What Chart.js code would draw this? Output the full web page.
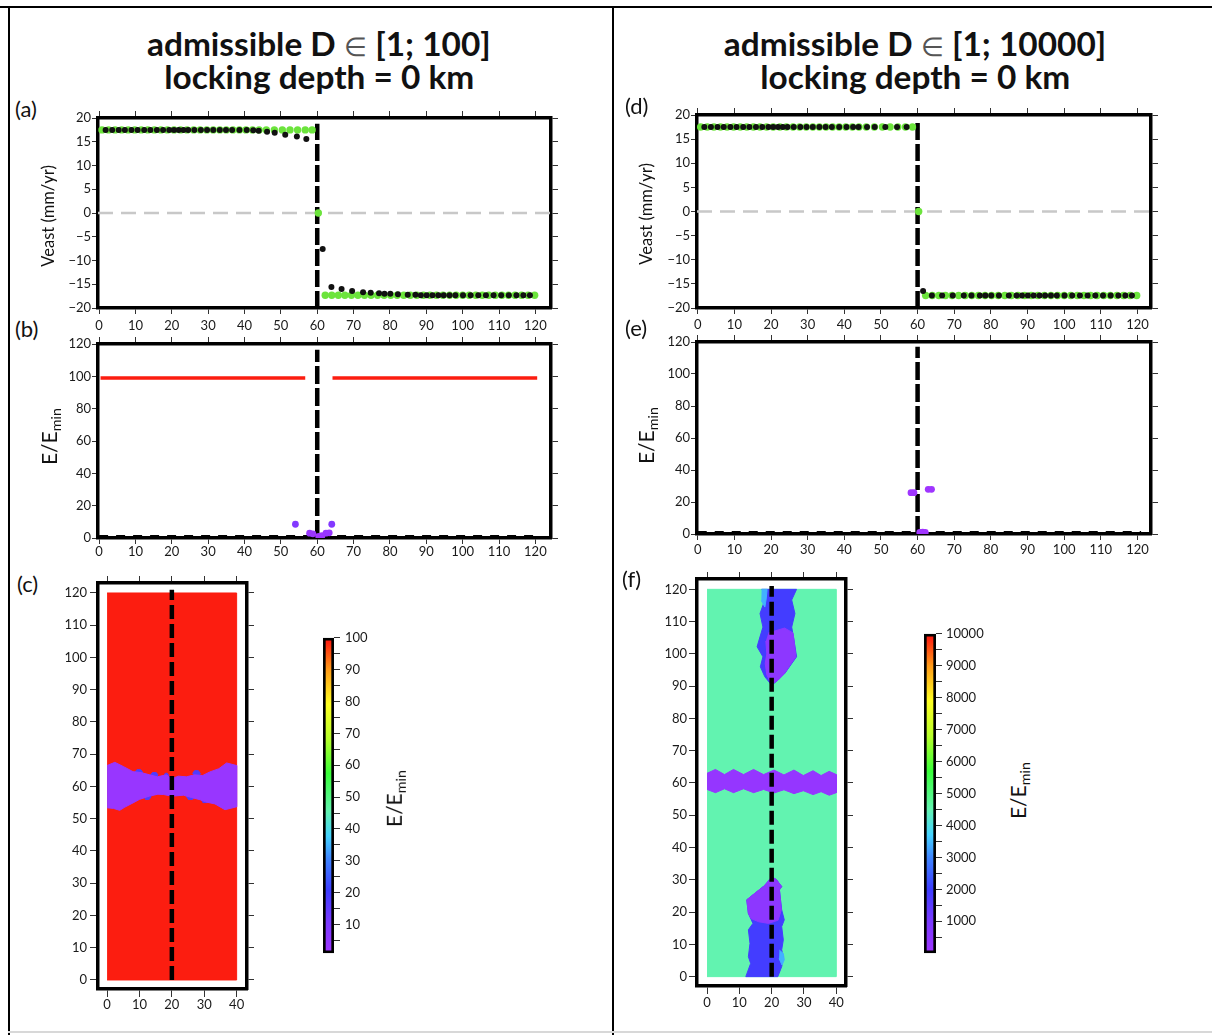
<!DOCTYPE html>
<html>
<head>
<meta charset="utf-8">
<script src="https://cdn.jsdelivr.net/npm/chart.js@4.4.1/dist/chart.umd.min.js"></script>
<style>
  html, body { margin: 0; padding: 0; background: #fff; }
  body { width: 1212px; height: 1035px; position: relative; overflow: hidden; font-family: Lato, "Open Sans", "DejaVu Sans", sans-serif; color: #111; }
  canvas { position: absolute; }
  .txt { position: absolute; white-space: nowrap; line-height: 1.2; color: #111; transform-origin: 50% 50%; }
  .txt sub { font-size: 0.68em; vertical-align: -0.28em; line-height: 0; }
  .elem { font-family: "DejaVu Sans", sans-serif; font-weight: 300; color: #555; font-size: 0.78em; }
  .rule { position: absolute; background: #000; }
</style>
</head>
<body>
<div class="rule" style="left:0;top:6px;width:1212px;height:2px"></div>
<div class="rule" style="left:8px;top:6px;width:2px;height:1029px"></div>
<div class="rule" style="left:612px;top:6px;width:2px;height:1029px"></div>
<div class="rule" style="left:8px;top:1031px;width:1204px;height:2px;background:#d8d8d8"></div>
<script>
// ---------------- DATA ----------------
// tick values
const xTickVals  = [0, 10, 20, 30, 40, 50, 60, 70, 80, 90, 100, 110, 120];
const veastTicks = [-20, -15, -10, -5, 0, 5, 10, 15, 20];
const eTicks     = [0, 20, 40, 60, 80, 100, 120];
const mapXTicks  = [0, 10, 20, 30, 40];
const mapYTicks  = [0, 10, 20, 30, 40, 50, 60, 70, 80, 90, 100, 110, 120];
const cbTicksC   = [5, 10, 15, 20, 25, 30, 35, 40, 45, 50, 55, 60, 65, 70, 75, 80, 85, 90, 95, 100];
const cbLabelsC  = [10, 20, 30, 40, 50, 60, 70, 80, 90, 100];
const cbTicksF   = [500, 1000, 1500, 2000, 2500, 3000, 3500, 4000, 4500, 5000, 5500, 6000, 6500, 7000, 7500, 8000, 8500, 9000, 9500, 10000];
const cbLabelsF  = [1000, 2000, 3000, 4000, 5000, 6000, 7000, 8000, 9000, 10000];

// fault position (km) and colour scale ranges
const faultX = 60;
const faultMapX = 20;
const rangeC = [1, 100];
const rangeF = [1, 10000];

// observed east velocities (black)
const obsXLeft  = [1.8, 3.6, 5.4, 7.1, 8.9, 10.6, 12.4, 14.1, 15.9, 17.6, 19.3, 20.6, 21.9, 23.2, 24.5, 26.2, 28.0, 29.7, 31.4, 33.2, 34.9, 36.6, 38.6, 40.6, 42.4, 43.9, 46.2, 48.3, 51.2, 54.4, 57.0];
const obsXRight = [61.5, 63.9, 66.7, 69.6, 72.6, 74.7, 77.0, 78.5, 80.1, 82.2, 84.9, 87.0, 88.5, 90.1, 91.7, 93.3, 94.8, 96.4, 98.0, 100.1, 102.2, 104.3, 106.4, 108.5, 110.6, 112.7, 114.8, 116.7, 118.5];
const veastObsLeftA  = [17.5, 17.5, 17.5, 17.5, 17.5, 17.5, 17.5, 17.5, 17.5, 17.5, 17.5, 17.5, 17.5, 17.5, 17.5, 17.5, 17.5, 17.5, 17.5, 17.5, 17.5, 17.5, 17.5, 17.5, 17.4, 17.3, 17.1, 16.9, 16.5, 16.1, 15.6];
const veastObsRightA = [-7.6, -15.6, -16.0, -16.4, -16.7, -16.8, -16.9, -17.0, -17.0, -17.1, -17.2, -17.2, -17.3, -17.3, -17.3, -17.3, -17.3, -17.3, -17.3, -17.3, -17.3, -17.3, -17.3, -17.3, -17.3, -17.3, -17.3, -17.3, -17.3];
const veastObsLeftD  = [17.5, 17.5, 17.5, 17.5, 17.5, 17.5, 17.5, 17.5, 17.5, 17.5, 17.5, 17.5, 17.5, 17.5, 17.5, 17.5, 17.5, 17.5, 17.5, 17.5, 17.5, 17.5, 17.5, 17.5, 17.5, 17.5, 17.5, 17.5, 17.5, 17.5, 17.5];
const veastObsRightD = [-16.5, -17.4, -17.4, -17.4, -17.4, -17.4, -17.4, -17.4, -17.4, -17.4, -17.4, -17.4, -17.4, -17.4, -17.4, -17.4, -17.4, -17.4, -17.4, -17.4, -17.4, -17.4, -17.4, -17.4, -17.4, -17.4, -17.4, -17.4, -17.4];

// modelled east velocities (green)
const modelX = [0.8, 2.6, 4.4, 6.2, 8.0, 9.8, 11.6, 13.4, 15.2, 17.0, 18.8, 20.6, 22.4, 24.2, 26.0, 27.8, 29.6, 31.4, 33.2, 35.0, 36.8, 38.6, 40.4, 42.2, 44.0, 46.0, 48.2, 50.4, 52.5, 54.6, 56.7, 58.6,
                60.3,
                62.2, 64.0, 65.8, 67.6, 69.4, 71.2, 73.0, 74.8, 76.6, 78.4, 80.2, 82.0, 83.8, 85.6, 87.4, 89.2, 91.0, 92.8, 94.6, 96.4, 98.2, 100.0, 101.8, 103.6, 105.4, 107.2, 109.0, 110.8, 112.6, 114.4, 116.2, 118.0, 119.8];
const veastModelA = [17.5, 17.5, 17.5, 17.5, 17.5, 17.5, 17.5, 17.5, 17.5, 17.5, 17.5, 17.5, 17.5, 17.5, 17.5, 17.5, 17.5, 17.5, 17.5, 17.5, 17.5, 17.5, 17.5, 17.5, 17.5, 17.5, 17.5, 17.5, 17.5, 17.5, 17.5, 17.5,
                0,
                -17.3, -17.3, -17.3, -17.3, -17.3, -17.3, -17.3, -17.3, -17.3, -17.3, -17.3, -17.3, -17.3, -17.3, -17.3, -17.3, -17.3, -17.3, -17.3, -17.3, -17.3, -17.3, -17.3, -17.3, -17.3, -17.3, -17.3, -17.3, -17.3, -17.3, -17.3, -17.3, -17.3];
const veastModelD = [17.5, 17.5, 17.5, 17.5, 17.5, 17.5, 17.5, 17.5, 17.5, 17.5, 17.5, 17.5, 17.5, 17.5, 17.5, 17.5, 17.5, 17.5, 17.5, 17.5, 17.5, 17.5, 17.5, 17.5, 17.5, 17.5, 17.5, 17.5, 17.5, 17.5, 17.5, 17.5,
                0,
                -17.4, -17.4, -17.4, -17.4, -17.4, -17.4, -17.4, -17.4, -17.4, -17.4, -17.4, -17.4, -17.4, -17.4, -17.4, -17.4, -17.4, -17.4, -17.4, -17.4, -17.4, -17.4, -17.4, -17.4, -17.4, -17.4, -17.4, -17.4, -17.4, -17.4, -17.4, -17.4, -17.4];

// E/Emin along the profile
const eHighX = [0.4, 56.7, 60.0, 64.2, 120.5];
const eHighB = [99, 99, null, 99, 99];
const eLowXB = [54.0, 64.0, 57.9, 58.8, 60.4, 61.3, 62.4, 63.3];
const eLowB  = [8.5, 8.5, 3.0, 2.6, 1.0, 1.4, 3.0, 3.2];
const eLowXE = [58.2, 59.0, 62.9, 63.8, 60.6, 61.4, 62.1];
const eLowE  = [25.8, 25.8, 27.9, 27.9, 1.0, 1.2, 1.0];
const eRefX  = [0, 121];
const eRefY  = [1, 1];

// map (c): admissible D in [1;100]
const cFieldX = [0, 40, 40, 0];
const cFieldY = [0, 0, 120, 120];
const cFieldE = 99;
const cBandX = [0, 2.4, 5.0, 8.0, 10.5, 13.2, 15.5, 18.3, 20.0, 22.0, 24.5, 27.0, 29.5, 31.7, 34.5, 36.9, 40,
                40, 36.4, 33.3, 30.5, 28.7, 26.0, 23.6, 20.0, 17.5, 15.7, 13.0, 12.1, 10.0, 8.0, 5.5, 3.9, 2.0, 0];
const cBandY = [66.5, 67.5, 66.2, 64.6, 64.3, 63.6, 63.0, 63.6, 62.4, 63.2, 63.0, 63.6, 63.4, 64.5, 65.5, 67.3, 66.5,
                53.7, 52.8, 54.6, 55.2, 55.9, 56.6, 57.3, 57.0, 57.5, 57.6, 57.0, 56.7, 56.0, 54.9, 53.6, 52.6, 53.2, 53.4];
const cBandE = 3;
const cPatchX = [[8.6, 9.2, 10.4, 11.0, 10.4, 9.2], [13.5, 14.0, 15.2, 15.7, 15.2, 14.0], [17.6, 18.0, 18.6, 19.0, 18.6, 18.0],
                 [26.4, 27.0, 28.2, 28.8, 28.2, 27.0], [11.2, 11.8, 13.0, 13.6, 13.0, 11.8], [24.4, 25.0, 26.4, 27.0, 26.4, 25.0],
                 [28.9, 29.5, 30.9, 31.5, 30.9, 29.5]];
const cPatchY = [[64.4, 65.2, 65.2, 64.4, 63.6, 63.6], [63.6, 64.3, 64.3, 63.6, 62.9, 62.9], [63.5, 64.1, 64.1, 63.5, 62.9, 62.9],
                 [64.0, 64.9, 64.9, 64.0, 63.1, 63.1], [56.8, 57.6, 57.6, 56.8, 56.0, 56.0], [56.8, 57.6, 57.6, 56.8, 56.0, 56.0],
                 [55.9, 56.8, 56.8, 55.9, 55.0, 55.0]];
const cPatchE = 18;

// map (f): admissible D in [1;10000]
const fFieldX = [0, 40, 40, 0];
const fFieldY = [0, 0, 120, 120];
const fFieldE = 4500;
const fBandX = [0, 2.6, 5.4, 8.2, 11.3, 14.4, 17.5, 20.7, 23.8, 26.9, 29.8, 32.8, 35.3, 37.8, 40,
                40, 37.8, 35.3, 32.8, 29.8, 26.9, 23.8, 20.7, 17.5, 14.4, 11.3, 8.2, 5.4, 2.6, 0];
const fBandY = [63.0, 64.2, 62.6, 64.2, 62.6, 64.2, 62.6, 64.0, 62.5, 64.0, 62.3, 63.8, 62.3, 63.6, 62.6,
                57.0, 56.2, 57.3, 56.4, 57.6, 56.7, 57.9, 56.9, 58.0, 57.0, 58.2, 57.0, 58.2, 57.0, 58.0];
const fBandE = 300;
const fTopX = [16.9, 27.7, 26.2, 27.2, 26.2, 26.9, 27.7, 26.2, 24.1, 22.0, 20.0, 17.9, 16.5, 17.3, 15.5, 16.1, 17.3, 16.4, 17.9];
const fTopY = [120, 120, 116.7, 112.5, 108.3, 104.3, 99.1, 97.0, 94.0, 91.9, 90.3, 92.9, 96.0, 99.1, 102.2, 104.3, 108.3, 112.5, 116.7];
const fTopE = 1900;
const fTopCoreX = [19.0, 24.0, 26.6, 26.9, 27.5, 26.0, 24.0, 22.0, 20.0, 18.5, 18.0, 18.5, 18.2];
const fTopCoreY = [106.5, 108.0, 106.5, 104.3, 99.1, 97.0, 94.0, 91.9, 90.5, 93.5, 97.0, 100.0, 104.0];
const fTopCoreE = 500;
const fTopEdgeX = [16.9, 18.6, 18.3, 17.9, 16.8];
const fTopEdgeY = [120, 120, 117.0, 114.5, 116.5];
const fTopEdgeE = 3400;
const fBotX = [20.0, 21.5, 23.1, 22.4, 23.1, 23.9, 23.1, 23.6, 23.1, 23.6, 23.1, 21.9, 12.0, 13.5, 12.8, 13.3, 12.8, 14.2, 12.8, 12.3, 17.4];
const fBotY = [31.0, 30.0, 27.9, 26.9, 20.7, 17.6, 15.5, 11.4, 8.3, 6.2, 3.1, 0, 0, 4.1, 6.2, 10.3, 14.5, 16.5, 19.6, 23.8, 27.9];
const fBotE = 1900;
const fBotCoreX = [20.0, 21.5, 23.1, 22.4, 23.0, 22.0, 19.0, 16.0, 13.6, 12.8, 12.3, 17.4];
const fBotCoreY = [31.0, 30.0, 27.9, 26.9, 20.7, 17.5, 16.5, 17.0, 18.0, 19.6, 23.8, 27.9];
const fBotCoreE = 500;
const fBotEdgeX = [22.4, 23.6, 23.9, 23.2, 22.3];
const fBotEdgeY = [8.2, 7.2, 5.2, 3.6, 5.6];
const fBotEdgeE = 3400;

// ---------------- STYLE / HELPERS ----------------
const FONT = 'Lato, "Open Sans", "DejaVu Sans", sans-serif';
const FRAME_W = 3.5;
const BLACK = '#111111';
const GREEN = '#6ce43c';
const cmapStops = [[0, '#a035ff'], [0.1, '#7a3aff'], [0.2, '#3d3dff'], [0.3, '#3f86ff'], [0.37, '#45d2ff'], [0.45, '#62f3b0'],
                   [0.57, '#38ff38'], [0.68, '#b8ff2a'], [0.79, '#ffff22'], [0.9, '#ff9a18'], [1, '#fc0f0f']];
function hex2rgb(h) { return [1, 3, 5].map(i => parseInt(h.substr(i, 2), 16)); }
function colorAt(f) {
  f = Math.max(0, Math.min(1, f));
  for (let i = 1; i < cmapStops.length; i++) {
    const [f1, c1] = cmapStops[i];
    if (f <= f1) {
      const [f0, c0] = cmapStops[i - 1];
      const t = (f - f0) / (f1 - f0);
      const a = hex2rgb(c0), b = hex2rgb(c1);
      return 'rgb(' + a.map((v, k) => Math.round(v + (b[k] - v) * t)).join(',') + ')';
    }
  }
  return cmapStops[cmapStops.length - 1][1];
}
const normC = e => (e - rangeC[0]) / (rangeC[1] - rangeC[0]);
const normF = e => (e - rangeF[0]) / (rangeF[1] - rangeF[0]);

const tickFont = {family: FONT, size: 13};
const fmt = v => (v < 0 ? '\u2212' + Math.abs(v) : String(v));
const P = (xs, ys) => xs.map((x, i) => ({x: x, y: ys[i]}));
const dots = (xs, ys, color, r, order) => ({data: P(xs, ys), showLine: false, pointRadius: r, pointBackgroundColor: color, pointBorderWidth: 0, pointBorderColor: 'rgba(0,0,0,0)', order: order});
const lineDs = (xs, ys, color, w, dash, order) => ({data: P(xs, ys), borderColor: color, borderWidth: w, borderDash: dash || [], pointRadius: 0, fill: false, spanGaps: false, order: order});
const poly = (xs, ys, color, order) => ({data: P(xs, ys), borderColor: color, backgroundColor: color, borderWidth: 1, pointRadius: 0, fill: 'shape', order: order});

function linAxis(pos, min, max, ticks, o) {
  const horiz = pos === 'top' || pos === 'bottom';
  return {
    type: 'linear', position: pos, min: min, max: max,
    afterBuildTicks: s => { s.ticks = ticks.map(v => ({value: v})); },
    afterFit: s => { if (horiz) s.height = o.size; else s.width = o.size; },
    ticks: {display: !!o.labels, font: tickFont, color: '#1a1a1a', padding: o.pad || 0, maxRotation: 0, minRotation: 0, autoSkip: false, callback: o.cb || fmt},
    grid: {display: true, drawOnChartArea: false, drawTicks: true, tickLength: o.tl, color: '#333', lineWidth: 1},
    border: {display: true, width: FRAME_W, color: '#000'}
  };
}
function frameScales(f) {
  return {
    x:  linAxis('bottom', f.xMin, f.xMax, f.xTicks, {size: f.B, labels: true, pad: f.xPad, tl: f.tl}),
    x2: linAxis('top', f.xMin, f.xMax, f.xTicks, {size: f.T, tl: f.tlOut}),
    y:  linAxis('left', f.yMin, f.yMax, f.yTicks, {size: f.L, labels: true, pad: f.yPad, tl: f.tl}),
    y2: linAxis('right', f.yMin, f.yMax, f.yTicks, {size: f.R, tl: f.tlOut})
  };
}
function makeChart(frame, sz, type, data, scales, layoutPad) {
  const left = Math.round(frame[0] - sz.L), top = Math.round(frame[1] - sz.T);
  const w = Math.round(frame[2] - frame[0] + sz.L + sz.R), h = Math.round(frame[3] - frame[1] + sz.T + sz.B);
  const c = document.createElement('canvas');
  c.width = w; c.height = h;
  c.style.left = left + 'px'; c.style.top = top + 'px'; c.style.width = w + 'px'; c.style.height = h + 'px';
  document.body.appendChild(c);
  return new Chart(c, {
    type: type, data: data,
    options: {
      responsive: false, animation: false, devicePixelRatio: 1, events: [],
      layout: {padding: layoutPad || 0},
      plugins: {legend: {display: false}, tooltip: {enabled: false}},
      scales: scales
    }
  });
}

// ---------------- PROFILE CHARTS ----------------
const profSz = {L: 52, R: 12, T: 12, B: 28};
function velocityChart(frame, xMin, xMax, obsLeft, obsRight, model, xPad) {
  const datasets = [
    lineDs([xMin, xMax], [0, 0], '#c8c8c8', 2.5, [15, 8], 6),
    lineDs([faultX, faultX], [-20, 18.8], '#000', 4.5, [17, 4], 5),
    dots(modelX, model, GREEN, 3.7, 2),
    dots(obsXLeft, obsLeft, BLACK, 3.0, 1),
    dots(obsXRight, obsRight, BLACK, 3.0, 1)
  ];
  makeChart(frame, profSz, 'line', {datasets: datasets},
    frameScales({xMin: xMin, xMax: xMax, xTicks: xTickVals, yMin: -20, yMax: 20, yTicks: veastTicks,
                 L: profSz.L, R: profSz.R, T: profSz.T, B: profSz.B, xPad: xPad, yPad: 1, tl: 6, tlOut: 7}));
}
function energyChart(frame, xMin, xMax, withHigh, lowX, lowY, norm, xPad, faultTop) {
  const datasets = [
    lineDs([faultX, faultX], [0, faultTop], '#000', 4.5, [18, 4], 5),
    lineDs(eRefX, eRefY, '#000', 3, [9, 8], 4),
    dots(lowX, lowY, lowY.map(v => colorAt(norm(v))), 3.4, 1)
  ];
  if (withHigh) datasets.push(lineDs(eHighX, eHighB, colorAt(norm(99)), 3.5, [], 3));
  makeChart(frame, profSz, 'line', {datasets: datasets},
    frameScales({xMin: xMin, xMax: xMax, xTicks: xTickVals, yMin: 0, yMax: 120, yTicks: eTicks,
                 L: profSz.L, R: profSz.R, T: profSz.T, B: profSz.B, xPad: xPad, yPad: 1, tl: 6, tlOut: 7}));
}

velocityChart([97.6, 118.3, 551, 308.3], -0.3, 124.3, veastObsLeftA, veastObsRightA, veastModelA, 4);
energyChart([97.6, 343.5, 551, 537.7], -0.3, 124.3, true, eLowXB, eLowB, normC, 0, 116.5);
velocityChart([696.8, 115, 1150.3, 308.3], -0.2, 123.7, veastObsLeftD, veastObsRightD, veastModelD, 3);
energyChart([696.8, 341.7, 1150.3, 534], -0.2, 123.7, false, eLowXE, eLowE, normF, 2, 117);

// ---------------- MAPS ----------------
const mapSz = {L: 45, R: 12, T: 12, B: 28};
function mapChart(frame, xr, yr, polys, xPad, yPad) {
  const datasets = polys.concat([lineDs([faultMapX, faultMapX], [0, 121], '#000', 4.5, [14, 5], 0)]);
  makeChart(frame, mapSz, 'line', {datasets: datasets},
    frameScales({xMin: xr[0], xMax: xr[1], xTicks: mapXTicks, yMin: yr[0], yMax: yr[1], yTicks: mapYTicks,
                 L: mapSz.L, R: mapSz.R, T: mapSz.T, B: mapSz.B, xPad: xPad, yPad: yPad, tl: 8, tlOut: 7}));
}
const cPolys = [poly(cFieldX, cFieldY, colorAt(normC(cFieldE)), 10), poly(cBandX, cBandY, colorAt(normC(cBandE)), 8)]
  .concat(cPatchX.map((xs, i) => poly(xs, cPatchY[i], colorAt(normC(cPatchE)), 9)));
mapChart([98.3, 582.7, 247.3, 989], [-2.8, 43.2], [-2.8, 123.1], cPolys, 0, 3);

const fPolys = [
  poly(fFieldX, fFieldY, colorAt(normF(fFieldE)), 10),
  poly(fBandX, fBandY, colorAt(normF(fBandE)), 9),
  poly(fTopX, fTopY, colorAt(normF(fTopE)), 8),
  poly(fTopCoreX, fTopCoreY, colorAt(normF(fTopCoreE)), 7),
  poly(fTopEdgeX, fTopEdgeY, colorAt(normF(fTopEdgeE)), 6),
  poly(fBotX, fBotY, colorAt(normF(fBotE)), 8),
  poly(fBotCoreX, fBotCoreY, colorAt(normF(fBotCoreE)), 7),
  poly(fBotEdgeX, fBotEdgeY, colorAt(normF(fBotEdgeE)), 6)
];
mapChart([697, 579, 846, 986], [-3.1, 43.0], [-2.9, 123.2], fPolys, 1, 2);

// ---------------- COLOUR BARS ----------------
function colorbar(frame, range, ticks, labels, pad) {
  const sz = {L: 0, R: 60, T: 9, B: 9};
  const grad = ctx => {
    const ca = ctx.chart.chartArea;
    if (!ca) return '#888';
    const g = ctx.chart.ctx.createLinearGradient(0, ca.bottom, 0, ca.top);
    cmapStops.forEach(s => g.addColorStop(s[0], s[1]));
    return g;
  };
  makeChart(frame, sz, 'bar', {
    labels: ['E/Emin'],
    datasets: [{data: [[range[0], range[1]]], backgroundColor: grad, borderColor: '#000', borderWidth: 3, borderSkipped: false, barPercentage: 1, categoryPercentage: 1}]
  }, {
    x: {type: 'category', display: false},
    y: {
      type: 'linear', position: 'right', min: range[0], max: range[1],
      afterBuildTicks: s => { s.ticks = ticks.map(v => ({value: v})); },
      afterFit: s => { s.width = sz.R; },
      ticks: {font: tickFont, color: '#1a1a1a', padding: pad, autoSkip: false, maxRotation: 0, callback: v => (labels.indexOf(v) >= 0 ? String(v) : '')},
      grid: {drawOnChartArea: false, drawTicks: true, tickLength: 6, color: '#333', lineWidth: 1},
      border: {display: false}
    }
  }, {top: sz.T, bottom: sz.B, left: 0, right: 0});
}
colorbar([323, 634, 334.3, 957], rangeC, cbTicksC, cbLabelsC, 5);
colorbar([923.7, 630.7, 935.3, 955.7], rangeF, cbTicksF, cbLabelsF, 4);

// ---------------- TEXT ----------------
const ASC = 0.987;
function addText(html, size, weight) {
  const d = document.createElement('div');
  d.className = 'txt';
  d.innerHTML = html;
  d.style.fontSize = size + 'px';
  d.style.fontWeight = weight || 400;
  document.body.appendChild(d);
  return d;
}
function centeredText(html, cx, baseline, size, weight, k) {
  const d = addText(html, size, weight);
  const w = d.offsetWidth;
  d.style.left = (cx - w / 2) + 'px';
  d.style.top = (baseline - ASC * size) + 'px';
  if (k && k !== 1) d.style.transform = 'scaleX(' + k + ')';
  return d;
}
function leftText(html, x, baseline, size) {
  const d = addText(html, size, 400);
  d.style.left = x + 'px';
  d.style.top = (baseline - ASC * size) + 'px';
}
function rotText(html, cx, cy, size) {
  const d = addText(html, size, 400);
  const w = d.offsetWidth, h = d.offsetHeight;
  d.style.left = (cx - w / 2) + 'px';
  d.style.top = (cy - h / 2) + 'px';
  d.style.transform = 'rotate(-90deg)';
}

const titleSize = 33;
const line1A = 'admissible D <span class="elem">\u2208</span> [1; 100]';
const line1D = 'admissible D <span class="elem">\u2208</span> [1; 10000]';
const line2 = 'locking depth = 0 km';
const probe = addText(line1A, titleSize, 700);
const kTitle = 344 / probe.offsetWidth;
probe.remove();
centeredText(line1A, 319, 57, titleSize, 700, kTitle);
centeredText(line2, 319, 90, titleSize, 700, kTitle);
centeredText(line1D, 915, 57, titleSize, 700, kTitle);
centeredText(line2, 915, 90, titleSize, 700, kTitle);

leftText('(a)', 15, 118, 22);
leftText('(b)', 15, 338, 22);
leftText('(c)', 17, 593, 22);
leftText('(d)', 625, 115, 22);
leftText('(e)', 625, 337, 22);
leftText('(f)', 622, 588, 22);

rotText('Veast (mm/yr)', 48.6, 216, 16.5);
rotText('E/E<sub>min</sub>', 48.5, 436, 21);
rotText('Veast (mm/yr)', 647, 214, 16.5);
rotText('E/E<sub>min</sub>', 645, 435, 21);
rotText('E/E<sub>min</sub>', 393, 798, 21);
rotText('E/E<sub>min</sub>', 1017, 790, 21);
</script>
</body>
</html>
